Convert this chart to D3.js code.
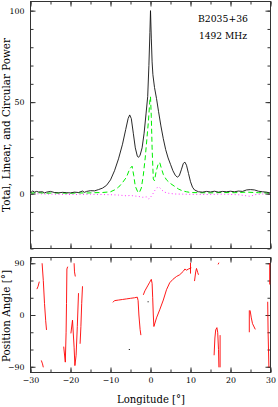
<!DOCTYPE html>
<html>
<head>
<meta charset="utf-8">
<script src="https://cdn.jsdelivr.net/npm/d3@7"></script>
<style>
body { margin: 0; background: #fff; }
svg { display: block; }
text { font-family: "DejaVu Serif", serif; fill: #000; }
</style>
</head>
<body>
<svg></svg>
<script>
const width = 278;
const height = 407;

// total intensity (black), pulse longitude in degrees
const totalPower = [
    [-30, 0.3], [-29.5, 1.5], [-29, 0.8], [-28.5, 1.2], [-28, 0.9], [-27, 1.0], [-26.5, 0.4],
    [-26, 0.8], [-25, 1.2], [-24, 0.6], [-23, 0.4], [-22, 0.7], [-21, 0.5], [-20, 0.4],
    [-19, 0.8], [-18, 0.6], [-17, 1.4], [-16.5, 0.7], [-16, 1.2], [-15, 1.6], [-14, 1.5],
    [-13, 2.2], [-12, 3.0], [-11, 4.5], [-10, 7.5], [-9, 12.5], [-8, 19], [-7, 27],
    [-6.2, 35], [-5.6, 41], [-5.2, 43], [-4.8, 41], [-4.3, 33], [-3.8, 25], [-3.3, 20.5],
    [-3.0, 19.8], [-2.6, 21], [-2.1, 25], [-1.6, 33], [-1.1, 44], [-0.7, 53], [-0.4, 70],
    [-0.15, 88], [0, 100], [0.2, 85], [0.4, 72], [0.6, 65], [1.0, 58], [1.5, 52], [2, 45],
    [2.6, 37], [3.2, 30], [3.8, 24], [4.4, 19.5], [5, 16], [5.6, 12.5], [6.2, 10], [6.7, 9],
    [7.2, 9.8], [7.7, 13], [8.2, 16.5], [8.6, 17.2], [9, 15.5], [9.5, 11], [10, 6.5],
    [10.5, 3.5], [11, 2], [12, 1.0], [13, 0.8], [14, 1.2], [15, 0.9], [16, 1.3], [17, 0.8],
    [18, 1.2], [19, 1.0], [20, 1.3], [21, 1.0], [22, 1.4], [23, 1.2], [24, 2.0], [25, 2.2],
    [26, 2.0], [27, 1.3], [28, 1.0], [29, 0.8], [30, 0.3]
];

// linear polarisation (green dashed)
const linearPower = [
    [-30, 0.3], [-28, 0.5], [-26, 0.2], [-24, 0.4], [-22, 0.3], [-20, 0.2], [-18, 0.4],
    [-16, 0.3], [-14, 0.5], [-12, 0.6], [-10, 1.0], [-9, 2], [-8, 3.5], [-7, 6], [-6, 9],
    [-5.2, 13.5], [-4.6, 15], [-4.2, 10], [-3.8, 4], [-3.2, 1], [-2.8, 0.5], [-2.3, 3],
    [-1.8, 10], [-1.3, 20], [-0.9, 30], [-0.5, 40], [-0.2, 50], [0, 53], [0.2, 42], [0.4, 25],
    [0.7, 8], [1.0, 7], [1.4, 12], [1.9, 16], [2.3, 17], [2.7, 14], [3.2, 10.5], [4, 7.5],
    [5, 5.5], [6, 4], [7, 2.5], [8, 1.5], [9, 1.0], [10, 0.6], [12, 0.5], [15, 0.4],
    [18, 0.6], [21, 0.5], [24, 0.8], [27, 0.5], [30, 0.3]
];

// circular polarisation (magenta dotted)
const circularPower = [
    [-30, 0], [-25, -0.3], [-20, -0.5], [-15, -0.4], [-12, -0.5], [-10, -0.6], [-8, -0.8],
    [-6, -1.2], [-5, -1.0], [-4, -1.3], [-3, -1.5], [-2, -2], [-1, -1.8], [-0.4, -3],
    [0, -2], [0.5, -0.5], [1, 1.5], [1.6, 3.2], [2.2, 3.5], [2.8, 2], [3.5, 0.8], [4.5, 0.2],
    [6, -0.2], [8, -0.3], [10, -0.4], [14, -0.5], [18, -0.3], [22, -0.6], [24, -1.2],
    [25, -1.5], [26, -0.6], [28, -0.2], [30, 0]
];

// position angle pieces, degrees
const paSegments = [
    [[-28.4, 45], [-28.1, 50], [-27.8, 58]],
    [[-27.1, 90], [-26.8, 60], [-26.5, 20], [-26.2, -10], [-26.0, -26]],
    [[-27.3, -79], [-27.0, -85], [-26.8, -91]],
    [[-20.7, 84], [-20.9, 80], [-21.0, 20], [-21.1, -30], [-21.3, -82]],
    [[-21.7, -55], [-21.3, -82]],
    [[-19.9, -32], [-19.5, -9], [-19.1, -56]],
    [[-19.1, 90], [-19.0, 75], [-18.8, 67]],
    [[-19.1, -56], [-18.9, -88], [-18.6, -70], [-18.3, -20], [-18.0, 38]],
    [[-17.6, -50], [-17.4, -20], [-17.2, 20], [-17.0, 50]],
    [[-9.4, 22], [-9, 25], [-8, 26], [-7, 27], [-6, 28], [-5, 29], [-4, 30], [-3.3, 31],
     [-3.1, 25], [-2.9, 0], [-2.6, -25], [-2.4, -35]],
    [[-1.8, 35], [-1.4, 42], [-1.0, 47], [-0.6, 52], [-0.2, 57], [0.2, 62], [0.4, 55],
     [0.55, 30], [0.7, 0], [0.85, -20], [1.5, -5], [2.3, 9], [3.2, 26], [4, 44], [4.8, 56],
     [5.6, 62], [6.5, 67], [7.3, 70], [8.2, 76], [8.6, 80], [9, 78], [9.5, 80], [10.2, 82]],
    [[10.0, 91], [10.0, 72]],
    [[11.0, 59], [11.3, 75], [11.5, 81], [11.8, 74], [12.0, 70]],
    [[16.9, 88], [17.1, 91]],
    [[15.9, -70], [16.1, -40], [16.3, -26], [16.6, -22], [16.8, -30], [17.0, -60], [17.1, -91]],
    [[17.4, -35], [17.4, -91]],
    [[24.7, 8], [24.7, -30]],
    [[24.9, 8], [25.2, -5], [25.5, -15], [26.2, -25]],
    [[29.3, 23], [29.4, -30], [29.6, -91]],
    [[29.8, 90], [29.8, 53]]
];
const paDots = [[-5.3, -60], [-0.6, 23]];

const xTicks = [-30, -20, -10, 0, 10, 20, 30];
const xMinor = d3.range(-30, 31, 5);
const powerTicks = [0, 50, 100];
const powerMinor = d3.range(-30, 101, 10);
const paTicks = [-90, 0, 90];
const paMinor = d3.range(-90, 91, 30);

const svg = d3.select("svg")
    .attr("width", width)
    .attr("height", height);

// scale a text's font so its rendered width hits a target width
function fit(sel, target) {
    const w = sel.node().getComputedTextLength();
    const fs = +sel.attr("font-size");
    sel.attr("font-size", (fs * target / w).toFixed(2));
    return sel;
}

const left = 30.5, right = 270.5;
const x = d3.scaleLinear().domain([-30, 30]).range([left, right]);
const yP = d3.scaleLinear().domain([-30, 105]).range([248.5, 1.5]);
const yA = d3.scaleLinear().domain([-100, 100]).range([372.5, 257.5]);

// tick label size taken from the width of "100"
const probe = svg.append("text").attr("font-size", 10).text("100");
const tickFs = 10 * 15 / probe.node().getComputedTextLength();
probe.remove();

function frame(y, major, minor, labelsX) {
    const top = y.range()[1], bot = y.range()[0];
    const g = svg.append("g");
    g.append("g").attr("transform", `translate(0,${bot})`)
        .call(d3.axisBottom(x).tickValues(xMinor).tickSize(-3).tickFormat(""));
    g.append("g").attr("transform", `translate(0,${bot})`)
        .call(d3.axisBottom(x).tickValues(xTicks).tickSize(-5).tickPadding(5)
            .tickFormat(labelsX ? d3.format("d") : ""));
    g.append("g").attr("transform", `translate(0,${top})`)
        .call(d3.axisTop(x).tickValues(xMinor).tickSize(-3).tickFormat(""));
    g.append("g").attr("transform", `translate(0,${top})`)
        .call(d3.axisTop(x).tickValues(xTicks).tickSize(-5).tickFormat(""));
    g.append("g").attr("transform", `translate(${left},0)`)
        .call(d3.axisLeft(y).tickValues(minor).tickSize(-3).tickFormat(""));
    g.append("g").attr("transform", `translate(${left},0)`)
        .call(d3.axisLeft(y).tickValues(major).tickSize(-5).tickPadding(6).tickFormat(d3.format("d")));
    g.append("g").attr("transform", `translate(${right},0)`)
        .call(d3.axisRight(y).tickValues(minor).tickSize(-3).tickFormat(""));
    g.append("g").attr("transform", `translate(${right},0)`)
        .call(d3.axisRight(y).tickValues(major).tickSize(-5).tickFormat(""));
    g.selectAll(".domain").remove();
    g.selectAll("line").attr("stroke", "#333");
    g.selectAll("text").attr("font-size", tickFs.toFixed(2)).attr("font-family", "DejaVu Serif");
    g.append("rect")
        .attr("x", left).attr("y", top)
        .attr("width", right - left).attr("height", bot - top)
        .attr("fill", "none").attr("stroke", "#333").attr("stroke-width", 1);
}

frame(yP, powerTicks, powerMinor, false);
frame(yA, paTicks, paMinor, true);

const lineP = d3.line().x(d => x(d[0])).y(d => yP(d[1]));
const lineA = d3.line().x(d => x(d[0])).y(d => yA(d[1]));

svg.append("path").datum(circularPower)
    .attr("d", lineP).attr("fill", "none")
    .attr("stroke", "#ff33ff").attr("stroke-width", 1)
    .attr("stroke-dasharray", "1,2.5");

svg.append("path").datum(linearPower)
    .attr("d", lineP).attr("fill", "none")
    .attr("stroke", "#00ee00").attr("stroke-width", 1)
    .attr("stroke-dasharray", "5,3");

svg.append("path").datum(totalPower)
    .attr("d", lineP).attr("fill", "none")
    .attr("stroke", "#111").attr("stroke-width", 0.9);

svg.append("g").selectAll("path")
    .data(paSegments)
    .enter().append("path")
    .attr("d", lineA)
    .attr("fill", "none")
    .attr("stroke", "#ff0000")
    .attr("stroke-width", 0.9);

svg.append("g").selectAll("rect")
    .data(paDots)
    .enter().append("rect")
    .attr("x", d => x(d[0]) - 0.5).attr("y", d => yA(d[1]) - 0.5)
    .attr("width", 1).attr("height", 1)
    .attr("fill", "#000");

fit(svg.append("text").attr("x", 198).attr("y", 21.5)
    .attr("font-size", 9).text("B2035+36"), 50);
fit(svg.append("text").attr("x", 199).attr("y", 39)
    .attr("font-size", 9).text("1492 MHz"), 48);

fit(svg.append("text")
    .attr("transform", `translate(10,125) rotate(-90)`)
    .attr("text-anchor", "middle").attr("font-size", 9)
    .text("Total, Linear, and Circular Power"), 174);
fit(svg.append("text")
    .attr("transform", `translate(10,316) rotate(-90)`)
    .attr("text-anchor", "middle").attr("font-size", 9)
    .text("Position Angle [°]"), 92);
fit(svg.append("text")
    .attr("x", 151).attr("y", 403)
    .attr("text-anchor", "middle").attr("font-size", 9)
    .text("Longitude [°]"), 68);
</script>
</body>
</html>
